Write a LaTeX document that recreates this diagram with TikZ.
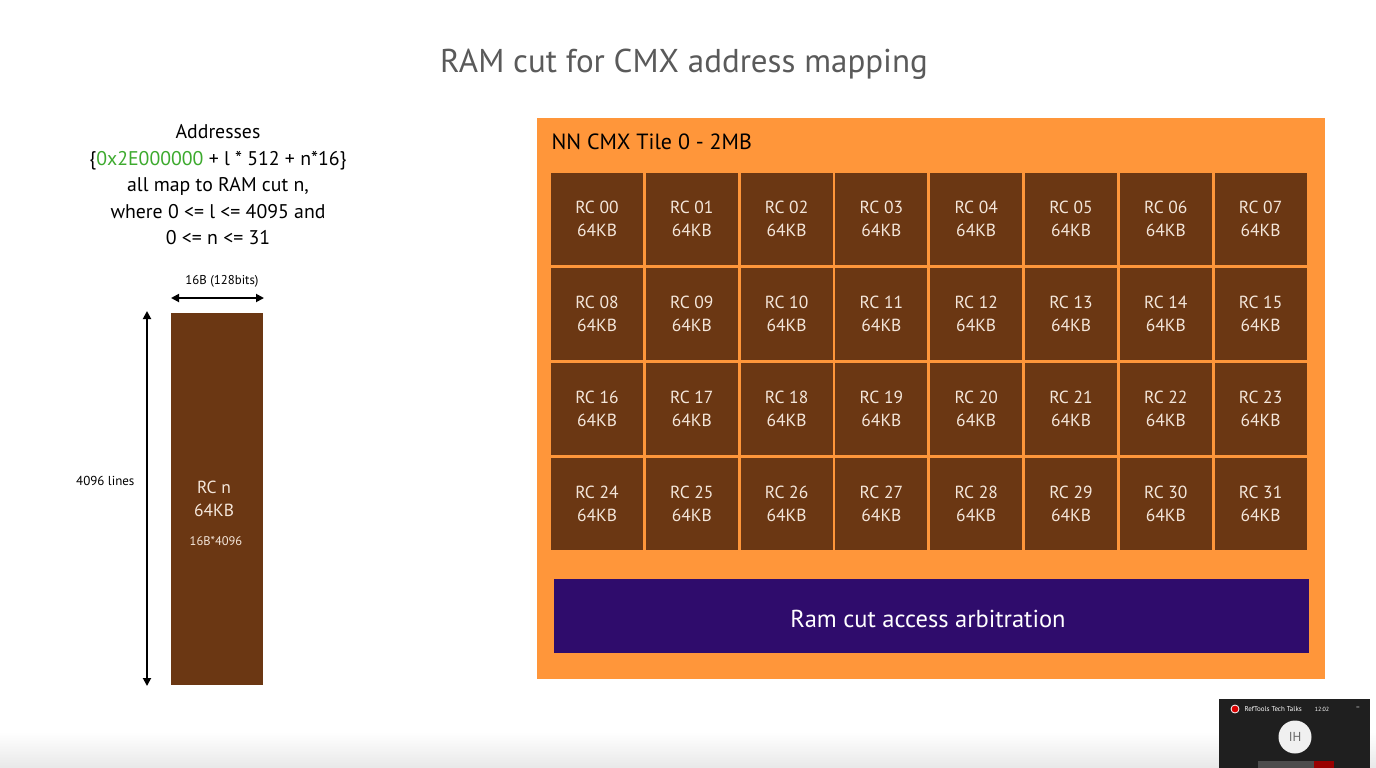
\documentclass[tikz,border=0pt]{standalone}
\usepackage{fontspec}
\setmainfont{PT Sans}
\usepackage{tikz}
\usetikzlibrary{arrows.meta}

\definecolor{tileorange}{HTML}{FF963A}
\definecolor{rcbrown}{HTML}{6B3713}
\definecolor{arbpurple}{HTML}{2F0C6C}
\definecolor{addrgreen}{HTML}{3DAA2E}
\definecolor{titlegray}{HTML}{5A5A5A}
\definecolor{rctext}{HTML}{F4E6DA}

\newcommand{\fsz}[1]{\fontsize{#1}{1.3\dimexpr#1pt\relax}\selectfont}

\tikzset{
    rccell/.style={fill=rcbrown, text=rctext, minimum width=92pt, minimum height=92pt,
        inner sep=0pt, align=center, font=\fontsize{17.5}{22.5}\selectfont},
    dimarrow/.style={{Triangle[length=8pt,width=8pt]}-{Triangle[length=8pt,width=8pt]}, line width=1.8pt},
}

\begin{document}
\begin{tikzpicture}[x=1pt, y=-1pt]

    \useasboundingbox[fill=white] (0,0) rectangle (1376,768);
    \shade[top color=white, bottom color=black!9] (0,732) rectangle (1376,768);

    \node[text=titlegray, font=\fsz{33}] (title) at (684,64) {RAM cut for CMX address mapping};

    % address rule on the left
    \node[align=center, font=\fontsize{19.8}{26.5}\selectfont, anchor=north] (addr) at (218,121)
        {Addresses\\
         \{\textcolor{addrgreen}{0x2E000000} + l * 512 + n*16\}\\
         all map to RAM cut n,\\
         where 0 <= l <= 4095 and\\
         0 <= n <= 31};

    % one ram cut
    \node[fill=rcbrown, minimum width=92pt, minimum height=372pt, inner sep=0pt, anchor=north west] (rcn) at (171,313) {};
    \node[text=rctext, align=center, font=\fontsize{17.5}{22.5}\selectfont] (rcnlabel) at (214,499) {RC n\\64KB};
    \node[text=rctext, font=\fsz{12.5}] (rcnsize) at (216,541) {16B*4096};

    \coordinate (wl) at (171,298);
    \coordinate (wr) at (264,298);
    \draw[dimarrow] (wl) -- (wr);
    \node[font=\fsz{12.8}] (width) at (222,281) {16B (128bits)};

    \coordinate (ht) at (147,311);
    \coordinate (hb) at (147,686);
    \draw[dimarrow] (ht) -- (hb);
    \node[font=\fsz{13}, anchor=east] (lines) at (138,481) {4096 lines};

    % cmx tile
    \node[fill=tileorange, minimum width=788pt, minimum height=561pt, inner sep=0pt, anchor=north west] (tile) at (537,118) {};
    \node[font=\fsz{22}, anchor=west] (tilename) at (548,142) {NN CMX Tile 0 - 2MB};

    \foreach \r in {0,...,3}{
        \foreach \c in {0,...,7}{
            \pgfmathtruncatemacro{\n}{8*\r+\c}
            \node[rccell] (rc\n) at ({597+94.8*\c},{219+95*\r})
                {RC \ifnum\n<10 0\fi\n\\64KB};
        }
    }

    \node[fill=arbpurple, minimum width=755pt, minimum height=74pt, inner sep=0pt, anchor=north west] (arb) at (554,579) {};
    \node[text=white, font=\fsz{24.5}] (arblabel) at (928,619) {Ram cut access arbitration};

    % call window in the corner
    \node[fill=black!88, minimum width=151pt, minimum height=70pt, inner sep=0pt, anchor=north west] (call) at (1219,699) {};
    \node[circle, fill=red!85!black, draw=white, line width=0.8pt, minimum size=8pt, inner sep=0pt] (rec) at (1235,709) {};
    \node[text=white, font=\fsz{7}, anchor=west] (calltitle) at (1241,709) {RefTools Tech Talks};
    \node[text=white, font=\fsz{6}] (calltime) at (1322,709) {12:02};
    \node[text=white, font=\fsz{7}] (callmin) at (1358,708) {--};
    \node[circle, fill=black!6, text=black!60, minimum size=33pt, inner sep=0pt, font=\fsz{13}] (avatar) at (1295,737) {IH};
    \node[fill=black!70, minimum width=56pt, minimum height=8pt, inner sep=0pt, anchor=north west] (ctrl) at (1258,761) {};
    \node[fill=red!60!black, minimum width=20pt, minimum height=8pt, inner sep=0pt, anchor=north west] (hang) at (1314,761) {};

\end{tikzpicture}
\end{document}
